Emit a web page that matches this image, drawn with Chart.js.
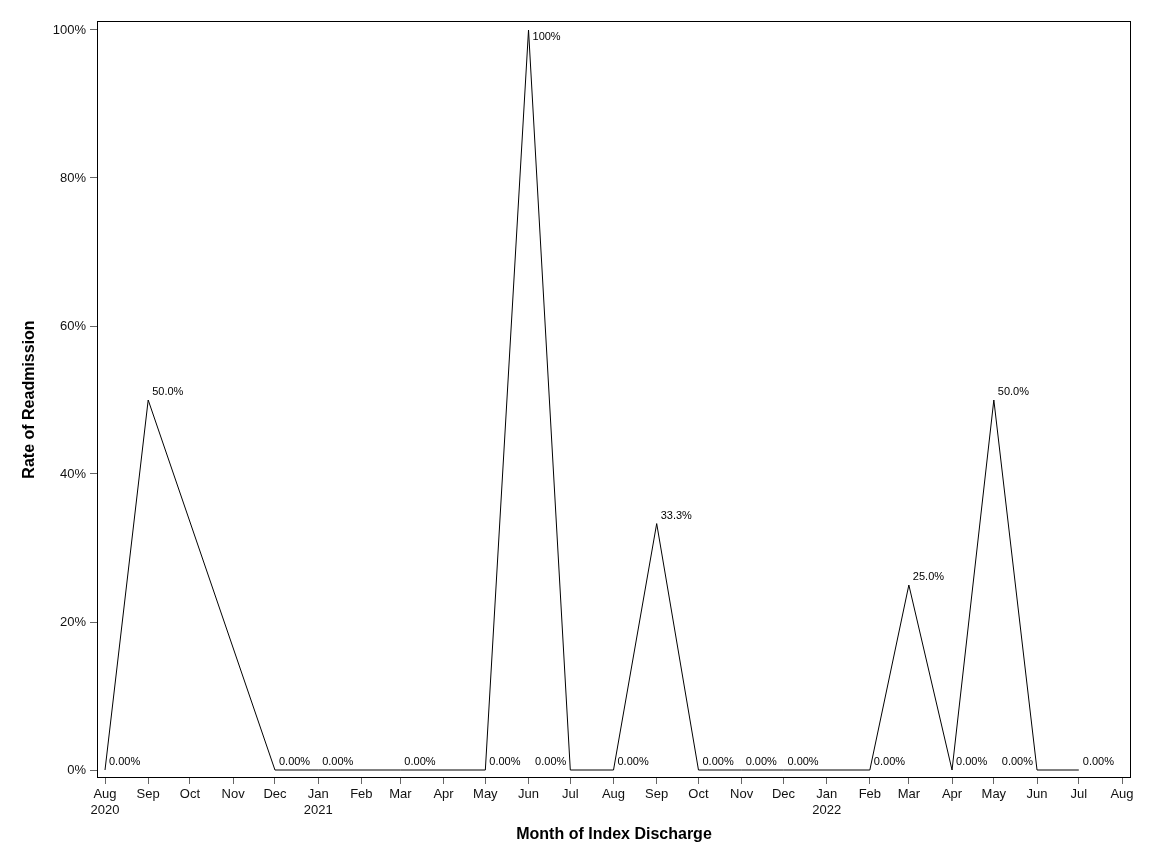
<!DOCTYPE html>
<html>
<head>
<meta charset="utf-8">
<script src="https://cdn.jsdelivr.net/npm/chart.js@4.4.1/dist/chart.umd.min.js"></script>
<style>
  html, body { margin: 0; padding: 0; background: #fff; }
  #wrap { width: 1152px; height: 864px; position: relative; }
</style>
</head>
<body>
<div id="wrap"><canvas id="chart-rate"></canvas></div>
<script>
// months with a discharge, and readmission rate (%) for each
const months = ['2020-08', '2020-09', '2020-12', '2021-01', '2021-03', '2021-05', '2021-06', '2021-07',
    '2021-08', '2021-09', '2021-10', '2021-11', '2021-12', '2022-02', '2022-03', '2022-04',
    '2022-05', '2022-06', '2022-07'];
const rates = [0, 50, 0, 0, 0, 0, 100, 0, 0, 33.3, 0, 0, 0, 0, 25, 0, 50, 0, 0];
const yTicks = [0, 20, 40, 60, 80, 100];
const monthNames = ['Jan', 'Feb', 'Mar', 'Apr', 'May', 'Jun', 'Jul', 'Aug', 'Sep', 'Oct', 'Nov', 'Dec'];
const axisStart = '2020-08';
const axisEnd = '2022-08';
const labelsOnLeft = ['2021-07', '2022-06'];

const FONT = '"Liberation Sans", Arial, sans-serif';

function dayOf(ym) {
    const [y, m] = ym.split('-').map(Number);
    const [y0, m0] = axisStart.split('-').map(Number);
    return (Date.UTC(y, m - 1, 1) - Date.UTC(y0, m0 - 1, 1)) / 86400000;
}

// month ticks from axisStart to axisEnd
const monthTicks = [];
{
    let [y, m] = axisStart.split('-').map(Number);
    const [ye, me] = axisEnd.split('-').map(Number);
    while (y < ye || (y === ye && m <= me)) {
        monthTicks.push({ ym: y + '-' + String(m).padStart(2, '0'), y: y, m: m });
        m++;
        if (m > 12) { m = 1; y++; }
    }
}

function fmtRate(v) {
    return v.toPrecision(3) + '%';
}

const frame = {
    id: 'frame',
    afterDraw(chart) {
        const { ctx, chartArea: a } = chart;
        ctx.save();
        ctx.strokeStyle = '#000';
        ctx.lineWidth = 1;
        ctx.strokeRect(Math.round(a.left) + 0.5, Math.round(a.top) + 0.5,
            Math.round(a.right - a.left) - 1, Math.round(a.bottom - a.top) - 1);
        ctx.restore();
    }
};

const pointLabels = {
    id: 'pointLabels',
    afterDatasetsDraw(chart) {
        const { ctx } = chart;
        const meta = chart.getDatasetMeta(0);
        ctx.save();
        ctx.font = '11px ' + FONT;
        ctx.fillStyle = '#000';
        ctx.textBaseline = 'middle';
        meta.data.forEach((pt, i) => {
            const v = rates[i];
            const left = labelsOnLeft.includes(months[i]);
            ctx.textAlign = left ? 'right' : 'left';
            const x = left ? pt.x - 4 : pt.x + 4;
            const y = v > 95 ? pt.y + 7 : pt.y - 8;
            ctx.fillText(fmtRate(v), x, y);
        });
        ctx.restore();
    }
};

const pxPerDay = (1122 - 105) / dayOf(axisEnd);

new Chart(document.getElementById('chart-rate'), {
    type: 'line',
    data: {
        datasets: [{
            data: months.map((ym, i) => ({ x: dayOf(ym), y: rates[i] })),
            borderColor: '#000',
            borderWidth: 1,
            pointRadius: 0,
            tension: 0,
            fill: false
        }]
    },
    options: {
        responsive: true,
        maintainAspectRatio: false,
        animation: false,
        layout: { padding: { top: 21, right: 21, left: 0, bottom: 0 } },
        plugins: {
            legend: { display: false },
            tooltip: { enabled: false }
        },
        scales: {
            x: {
                type: 'linear',
                min: -8 / pxPerDay,
                max: dayOf(axisEnd) + 9 / pxPerDay,
                afterBuildTicks(scale) {
                    scale.ticks = monthTicks.map(t => ({ value: dayOf(t.ym) }));
                },
                afterFit(scale) { scale.height = 86; },
                ticks: {
                    autoSkip: false,
                    maxRotation: 0,
                    padding: 3,
                    color: '#111',
                    font: { family: FONT, size: 13 },
                    callback(value, index) {
                        const t = monthTicks[index];
                        const name = monthNames[t.m - 1];
                        if (index === 0 || t.m === 1) return [name, String(t.y)];
                        return name;
                    }
                },
                grid: {
                    drawOnChartArea: false,
                    drawTicks: true,
                    tickLength: 6,
                    tickColor: '#666'
                },
                border: { display: false },
                title: {
                    display: true,
                    text: 'Month of Index Discharge',
                    color: '#000',
                    font: { family: FONT, size: 16, weight: 'bold' },
                    padding: { top: 0, bottom: 20 }
                }
            },
            y: {
                min: -8 / 7.4,
                max: 100 + 9 / 7.4,
                afterBuildTicks(scale) {
                    scale.ticks = yTicks.map(v => ({ value: v }));
                },
                afterFit(scale) { scale.width = 97; },
                ticks: {
                    padding: 4,
                    color: '#111',
                    font: { family: FONT, size: 13 },
                    callback(value) { return value + '%'; }
                },
                grid: {
                    drawOnChartArea: false,
                    drawTicks: true,
                    tickLength: 7,
                    tickColor: '#666'
                },
                border: { display: false },
                title: {
                    display: true,
                    text: 'Rate of Readmission',
                    color: '#000',
                    font: { family: FONT, size: 16, weight: 'bold' },
                    padding: { top: 20, bottom: 0 }
                }
            }
        }
    },
    plugins: [frame, pointLabels]
});
</script>
</body>
</html>
